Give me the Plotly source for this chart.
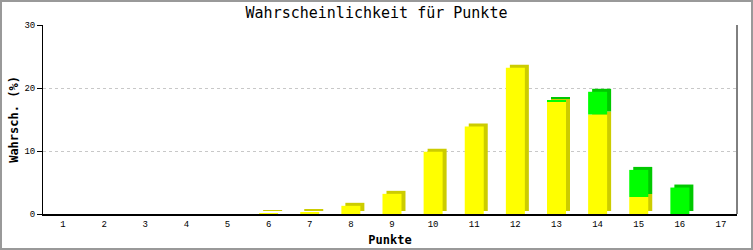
import plotly.graph_objects as go

punkte = list(range(1, 18))
gelb = [0, 0, 0, 0, 0, 0.1, 0.3, 1.3, 3.2, 9.9, 13.9, 23.2, 17.8, 15.8, 2.7, 0, 0]
gruen = [0, 0, 0, 0, 0, 0, 0, 0, 0, 0, 0, 0, 0.3, 3.6, 4.3, 4.2, 0]
y_ticks = [0, 10, 20, 30]

W, H = 753, 250
ML, MR, MT, MB = 43, 16, 25, 36
PW, PH = W - ML - MR, H - MT - MB
xr = [0.514, 17.389]
yr = [0, 30]
ux = (xr[1] - xr[0]) / PW   # data units per pixel
uy = (yr[1] - yr[0]) / PH
dx, dy = 4 * ux, 3 * uy
bw = 19 * ux

fig = go.Figure()
# 3D depth (shadow) faces
fig.add_bar(x=[p + dx for p in punkte], y=gelb, base=[dy if v > 0 else 0 for v in gelb],
            width=bw, marker=dict(color="#CCCC00", line_width=0), hoverinfo="skip")
fig.add_bar(x=[p + dx for p in punkte], y=gruen, base=[g + dy for g in gelb],
            width=bw, marker=dict(color="#00C800", line_width=0), hoverinfo="skip")
# front faces
fig.add_bar(x=punkte, y=gelb, width=bw, marker=dict(color="#FFFF00", line_width=0))
fig.add_bar(x=punkte, y=gruen, base=gelb, width=bw, marker=dict(color="#00FF00", line_width=0))

fig.update_layout(
    width=W, height=H, barmode="overlay", showlegend=False,
    margin=dict(l=ML, r=MR, t=MT, b=MB, autoexpand=False),
    paper_bgcolor="white", plot_bgcolor="white",
    font=dict(family="Liberation Mono, DejaVu Sans Mono, monospace", color="black"),
    title=dict(text="Wahrscheinlichkeit für Punkte", x=0.5, xanchor="center",
               y=1 - 13 / H, yanchor="middle",
               font=dict(size=15, family="DejaVu Sans Mono, monospace")),
    xaxis=dict(range=xr, tickmode="array", tickvals=punkte, ticktext=[str(p) for p in punkte],
               showgrid=False, zeroline=False, showline=True, linecolor="black", linewidth=2,
               ticks="", tickfont=dict(size=9), fixedrange=True, automargin=False,
               title=dict(text="<b>Punkte</b>", font=dict(size=12, family="DejaVu Sans Mono, monospace"), standoff=7)),
    yaxis=dict(range=yr, tickmode="array", tickvals=y_ticks, showgrid=True,
               gridcolor="#C8C8C8", griddash="dot", gridwidth=1, zeroline=False, automargin=False,
               showline=True, linecolor="black", linewidth=1, ticks="outside", ticklen=5,
               tickcolor="black", tickfont=dict(size=9),
               title=dict(text="<b>Wahrsch. (%)</b>", font=dict(size=12, family="DejaVu Sans Mono, monospace"), standoff=3)),
    shapes=[
        dict(type="line", xref="paper", yref="paper", x0=1, x1=1, y0=0, y1=1,
             line=dict(color="black", width=1)),
        dict(type="rect", xref="paper", yref="paper",
             x0=-(ML - 1) / PW, x1=1 + (MR - 1) / PW, y0=-(MB - 1) / PH, y1=1 + (MT - 1) / PH,
             line=dict(color="#999999", width=2)),
    ],
)

fig.write_html("out.html")
